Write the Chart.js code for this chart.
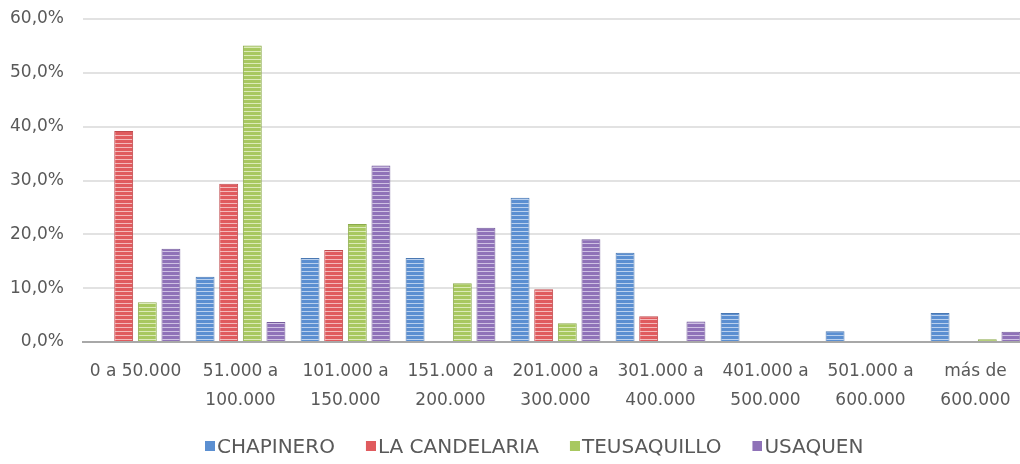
<!DOCTYPE html>
<html>
<head>
<meta charset="utf-8">
<script src="https://cdn.jsdelivr.net/npm/chart.js@4/dist/chart.umd.min.js"></script>
<style>
html,body{margin:0;padding:0;background:#fff;overflow:hidden;width:1020px;height:464px;}
#wrap{width:1028px;height:464px;}
</style>
</head>
<body>
<div id="wrap"><canvas id="c" width="1028" height="464" style="width:1028px;height:464px"></canvas></div>
<script>
const categories = [
  "0 a 50.000",
  ["51.000 a", "100.000"],
  ["101.000 a", "150.000"],
  ["151.000 a", "200.000"],
  ["201.000 a", "300.000"],
  ["301.000 a", "400.000"],
  ["401.000 a", "500.000"],
  ["501.000 a", "600.000"],
  ["más de", "600.000"]
];
const seriesNames = ["CHAPINERO", "LA CANDELARIA", "TEUSAQUILLO", "USAQUEN"];
const chapinero   = [0, 12.1, 15.6, 15.6, 26.8, 16.6, 5.4, 2.0, 5.4];
const candelaria  = [39.2, 29.4, 17.1, 0, 9.8, 4.8, 0, 0, 0];
const teusaquillo = [7.4, 55.1, 21.9, 10.9, 3.5, 0, 0, 0, 0.5];
const usaquen     = [17.3, 3.7, 32.8, 21.2, 19.1, 3.8, 0, 0, 1.9];
const yTicks = [0, 10, 20, 30, 40, 50, 60];

const fills   = ["#5b8fd1", "#e05b5e", "#a8c860", "#8f72b8"];
const lights  = ["#b9d0ee", "#f4b9ba", "#dcebb8", "#cfc1e4"];
const borders = ["#4a78b2", "#c04a4d", "#8cab4c", "#765c9c"];

function stripe(color, light) {
  const c = document.createElement('canvas');
  c.width = 8; c.height = 4;
  const g = c.getContext('2d');
  g.fillStyle = color; g.fillRect(0, 0, 8, 4);
  g.fillStyle = light; g.fillRect(0, 3, 8, 1);
  return g.createPattern(c, 'repeat');
}
// legend marker: 10x10 square placed left of the image centre so it sits just before the text
function marker(color) {
  const c = document.createElement('canvas');
  c.width = 18; c.height = 14;
  const g = c.getContext('2d');
  g.fillStyle = color; g.fillRect(8, 0, 10, 10);
  return c;
}

const seriesData = [chapinero, candelaria, teusaquillo, usaquen];
const datasets = seriesNames.map((n, i) => ({
  label: n,
  data: seriesData[i],
  backgroundColor: stripe(fills[i], lights[i]),
  borderColor: borders[i],
  borderWidth: 1,
  categoryPercentage: 0.9,
  barPercentage: 0.8
}));

const LEGEND_START = 205;
const LEGEND_TOP = 407;
const legendShift = {
  id: 'legendShift',
  beforeDraw(chart) {
    const l = chart.legend;
    if (l && l.lineWidths) {
      const pad = l.options.labels.padding;
      l.left = LEGEND_START - pad;
      l.right = LEGEND_START + l.lineWidths[0];
      l.top = LEGEND_TOP;
    }
  }
};

const font = "'DejaVu Sans', sans-serif";
new Chart(document.getElementById('c'), {
  type: 'bar',
  data: { labels: categories, datasets },
  plugins: [legendShift],
  options: {
    responsive: false,
    animation: false,
    devicePixelRatio: 1,
    layout: { padding: { top: 19, left: 0, right: 0, bottom: -19 } },
    plugins: {
      tooltip: { enabled: false },
      legend: {
        position: 'bottom',
        labels: {
          font: { family: font, size: 20 },
          color: '#595959',
          usePointStyle: true,
          boxWidth: 2,
          boxHeight: 10,
          padding: 31,
          generateLabels(chart) {
            return chart.data.datasets.map((d, i) => ({
              text: d.label,
              fillStyle: fills[i],
              strokeStyle: fills[i],
              lineWidth: 0,
              pointStyle: marker(fills[i]),
              datasetIndex: i,
              fontColor: '#595959'
            }));
          }
        }
      }
    },
    scales: {
      x: {
        afterFit(s) { s.height = 80; },
        grid: { display: false, drawTicks: false },
        border: { display: true, color: '#a8a8a8', width: 2 },
        ticks: {
          font: { family: font, size: 17, lineHeight: 1.71 },
          color: '#595959',
          padding: 15,
          maxRotation: 0,
          autoSkip: false
        }
      },
      y: {
        min: 0, max: 60,
        afterFit(s) { s.width = 83; s.paddingTop = 0; s.paddingBottom = 0; },
        afterBuildTicks(s) { s.ticks = yTicks.map(v => ({ value: v })); },
        grid: { color: '#e2e2e2', lineWidth: 2, drawTicks: false },
        border: { display: false },
        ticks: {
          font: { family: font, size: 17, lineHeight: 1.2 },
          color: '#595959',
          padding: 19,
          callback: v => v.toFixed(1).replace('.', ',') + '%'
        }
      }
    }
  }
});
</script>
</body>
</html>
